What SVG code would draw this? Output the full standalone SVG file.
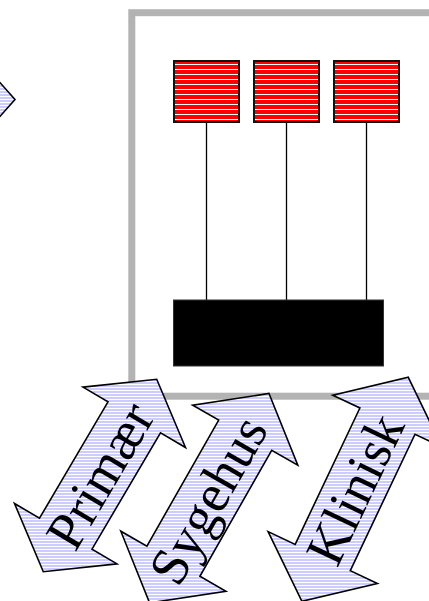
<svg xmlns="http://www.w3.org/2000/svg" width="429" height="601" viewBox="0 0 429 601">
  <defs>
    <pattern id="blueStripe" patternUnits="userSpaceOnUse" width="8" height="3">
      <rect width="8" height="3" fill="#ccccff"/>
      <rect y="0" width="8" height="1" fill="#ffffff"/>
    </pattern>
    <pattern id="redStripe" patternUnits="userSpaceOnUse" x="0" y="60" width="8" height="5">
      <rect width="8" height="5" fill="#ff0000"/>
      <rect y="4" width="8" height="1" fill="#ffffff"/>
    </pattern>
  </defs>
  <style>
    .arrow { fill: url(#blueStripe); stroke: #000000; stroke-width: 1.6; stroke-linejoin: miter; }
    .red { fill: url(#redStripe); stroke: #111111; stroke-width: 2; }
    .lbl { font-family: "Liberation Serif", "Times New Roman", serif; font-size: 54px; fill: #000000; text-anchor: middle; }
    .conn { stroke: #000000; stroke-width: 1.3; fill: none; }
  </style>
  <rect width="429" height="601" fill="#ffffff"/>

  <g id="left-arrow">
    <polygon class="arrow" points="-5,77 15,99.5 -5,122"/>
  </g>

  <g id="frame">
    <rect x="131.8" y="12.7" width="320" height="383.5" fill="none" stroke="#b3b3b3" stroke-width="7"/>
  </g>

  <g id="connectors">
    <line class="conn" x1="206.5" y1="122" x2="206.5" y2="300"/>
    <line class="conn" x1="286.5" y1="122" x2="286.5" y2="300"/>
    <line class="conn" x1="366.5" y1="122" x2="366.5" y2="300"/>
  </g>

  <g id="red1"><rect class="red" x="174" y="61" width="65" height="61"/></g>
  <g id="red2"><rect class="red" x="254" y="61" width="65" height="61"/></g>
  <g id="red3"><rect class="red" x="334" y="61" width="65" height="61"/></g>

  <g id="black-box">
    <rect x="173.5" y="300" width="210" height="66" fill="#000000" stroke="#333333" stroke-width="1"/>
  </g>

  <g id="arrow-primaer">
    <polygon class="arrow" points="156.7,379.3 185.5,447.5 160.5,432.8 92.0,549.1 117.0,563.9 43.3,571.7 14.5,503.5 39.5,518.2 108.0,401.9 83.0,387.1"/>
    <text class="lbl" transform="translate(100,475.5) rotate(-59.5)" x="0" y="18">Primær</text>
  </g>

  <g id="arrow-sygehus">
    <polygon class="arrow" points="269.0,393.5 297.8,465.2 271.7,450.3 199.9,576.3 225.9,591.2 149.6,602.9 120.8,531.2 146.9,546.1 218.7,420.1 192.7,405.3"/>
    <text class="lbl" transform="translate(210,501) rotate(-60.3)" x="0" y="16">Sygehus</text>
  </g>

  <g id="arrow-klinisk">
    <polygon class="arrow" points="408.3,377.3 442.1,447.1 415.0,434.2 350.3,570.6 377.4,583.5 301.9,601.3 268.1,531.6 295.2,544.4 359.9,408.0 332.8,395.2"/>
    <text class="lbl" transform="translate(355.1,489.3) rotate(-64.6)" x="0" y="18">Klinisk</text>
  </g>
</svg>
